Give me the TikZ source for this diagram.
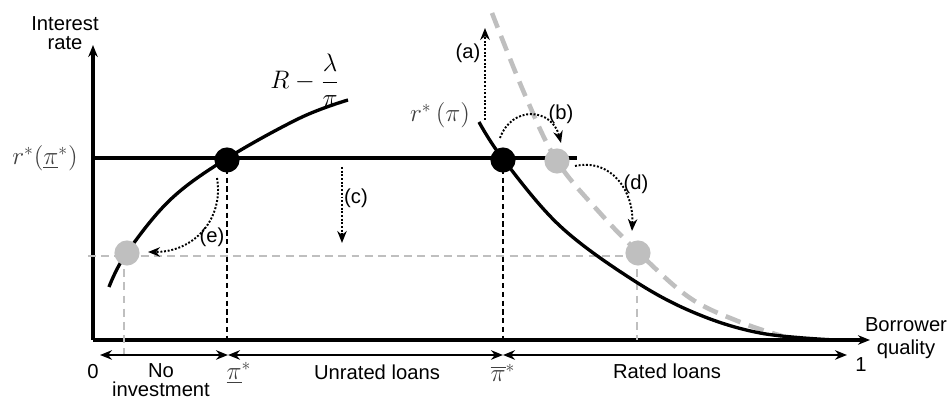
\documentclass[tikz,border=0pt]{standalone}
\usepackage{amsmath,amssymb}
\usepackage[no-math]{fontspec}
\setmainfont{Liberation Sans}
\usepackage{tikz}
\usetikzlibrary{positioning,arrows.meta}
\usepackage{xcolor}
\definecolor{guidegrey}{gray}{0.75}

\begin{document}
\begin{tikzpicture}[x=0.02cm,y=-0.02cm,>={Stealth[length=2.4mm,width=1.9mm]},
  lbl/.style={font=\fontsize{11.5}{13}\selectfont,align=center,inner sep=1pt},
  mlbl/.style={font=\fontsize{14}{16}\selectfont,text=black!75,inner sep=1pt},
  curve/.style={line width=1.9pt},
  bigdot/.style={circle,fill=black,inner sep=0pt,minimum size=14.3pt},
  greydot/.style={circle,fill=guidegrey,inner sep=0pt,minimum size=14.3pt},
  guide/.style={guidegrey,line width=1.4pt,dash pattern=on 4.5pt off 3pt},
  moveline/.style={->,densely dotted,line width=1.1pt}]
\useasboundingbox (0,0) rectangle (948,401);
% axes
\coordinate (O) at (93,340);
\coordinate (ytop) at (93,45);
\coordinate (xend) at (870,340);
\draw[curve,->] (O) -- (ytop);
\draw[curve,->] (O) -- (xend);
\node[lbl] (ylab) at (65,33) {Interest\\[-2pt]rate};
\node[lbl] (xlab) at (906,338) {Borrower\\quality};
% grey guide lines
\coordinate (gL) at (88,256);
\coordinate (Pe) at (124,256);
\coordinate (Pd) at (637,256);
\draw[guide] (gL) -- (Pd);
\draw[guide] (Pe) -- (124,354);
\draw[guide] (Pd) -- (Pd |- O);
% shifted curve
\draw[guidegrey,line width=2.6pt,dash pattern=on 9pt off 5pt] plot[smooth,tension=0.6] coordinates {(492,13) (525,95) (557,161) (600,213) (639,253) (690,298) (740,322) (782,336)};
% rate line
\coordinate (rL) at (93,158);
\coordinate (rR) at (577,158);
\draw[curve] (rL) -- (rR);
% curves
\draw[curve] plot[smooth,tension=0.6] coordinates {(109,287) (126,254) (170,200) (226,159) (300,118) (348,100)};
\draw[curve] plot[smooth,tension=0.6] coordinates {(479,122) (503,159) (560,226) (633,280) (695,313) (760,333) (835,340)};
% cut-off lines
\coordinate (Plow) at (227,160);
\coordinate (Phigh) at (503,160);
\draw[line width=1.3pt,dash pattern=on 3pt off 2pt] (Plow) -- (Plow |- O);
\draw[line width=1.3pt,dash pattern=on 3pt off 2pt] (Phigh) -- (Phigh |- O);
% dots
\node[bigdot] (Dlow) at (Plow) {};
\node[bigdot] (Dhigh) at (Phigh) {};
\node[greydot] (De) at (127,253) {};
\node[greydot] (Db) at (557,161) {};
\node[greydot] (Dd) at (638,253) {};
% labels
\node[mlbl] (rlow) at (45,158) {$r^*(\underline{\pi}^*)$};
\node[mlbl,text=black] (Rl) at (305,80) {$R-\dfrac{\lambda}{\pi}$};
\node[mlbl] (rpi) at (440,115) {$r^*\,(\pi)$};
% shifts
\coordinate (aS) at (485,120);
\coordinate (aE) at (485,28);
\draw[moveline] (aS) -- (aE);
\node[lbl] (la) at (468,53) {(a)};
\coordinate (bS) at (500,138);
\coordinate (bE) at (561,143);
\draw[moveline] (bS) .. controls (512,105) and (552,108) .. (bE);
\node[lbl] (lb) at (561,114) {(b)};
\coordinate (cS) at (342,167);
\coordinate (cE) at (342,243);
\draw[moveline] (cS) -- (cE);
\node[lbl] (lc) at (356,198) {(c)};
\coordinate (dS) at (575,166);
\coordinate (dE) at (632,231);
\draw[moveline] (dS) .. controls (612,158) and (634,192) .. (dE);
\node[lbl] (ld) at (636,184) {(d)};
\coordinate (eS) at (217,178);
\coordinate (eE) at (148,252);
\draw[moveline] (eS) .. controls (224,218) and (195,252) .. (eE);
\node[lbl] (le) at (212,237) {(e)};
% ranges
\coordinate (s0) at (100,355);
\coordinate (s1) at (228,355);
\coordinate (s2) at (503,355);
\coordinate (s3) at (847,355);
\draw[<->,line width=1.3pt] (s0) -- (s1);
\draw[<->,line width=1.3pt] (s1) -- (s2);
\draw[<->,line width=1.3pt] (s2) -- (s3);
\node[lbl] (zero) at (93,372) {0};
\node[lbl] (noinv) at (161,380) {No\\[-2pt]investment};
\node[mlbl] (pilow) at (239,373) {$\underline{\pi}^*$};
\node[lbl] (unrated) at (377,372) {Unrated loans};
\node[mlbl] (pihigh) at (503,373) {$\overline{\pi}^*$};
\node[lbl] (rated) at (667,371) {Rated loans};
\node[lbl] (one) at (861,365) {1};
\end{tikzpicture}
\end{document}
